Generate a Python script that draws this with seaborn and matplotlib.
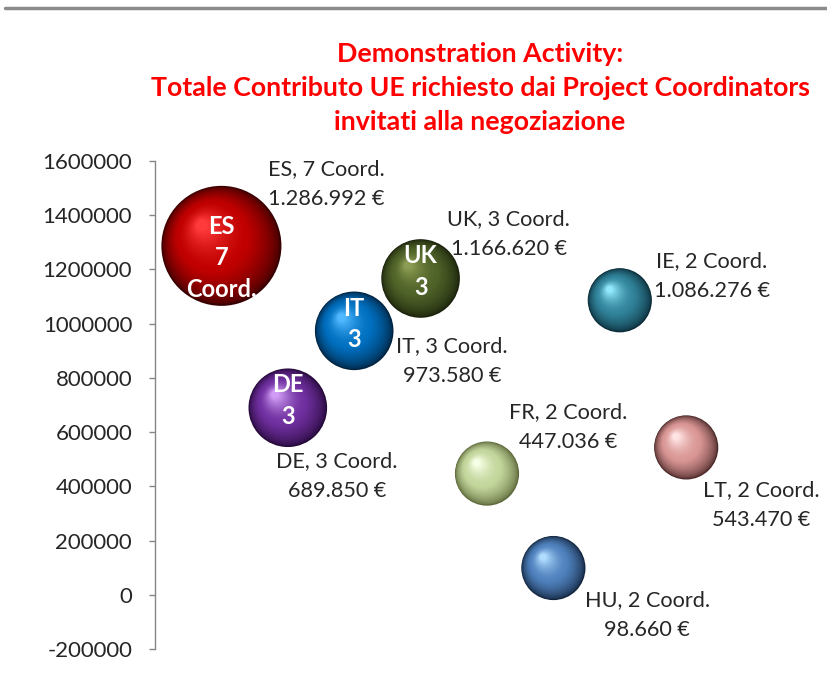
import numpy as np
import pandas as pd
import matplotlib
matplotlib.use("Agg")
import matplotlib.pyplot as plt
import seaborn as sns
from matplotlib.colors import to_rgb
from matplotlib.lines import Line2D

# ---------------- data ----------------
countries = ["ES", "DE", "IT", "UK", "FR", "HU", "IE", "LT"]
x_pos = [1, 2, 3, 4, 5, 6, 7, 8]
contrib = [1286992, 689850, 973580, 1166620, 447036, 98660, 1086276, 543470]
coords = [7, 3, 3, 3, 2, 2, 2, 2]
inner_labels = ["ES\n7\nCoord.", "DE\n3", "IT\n3", "UK\n3", "", "", "", ""]
title_lines = ["Demonstration Activity:",
               "Totale Contributo UE richiesto dai Project Coordinators",
               "invitati alla negoziazione"]
y_ticks = [-200000, 0, 200000, 400000, 600000, 800000, 1000000, 1200000, 1400000, 1600000]

# ---------------- styles ----------------
base_col = {"ES": "#c00000", "DE": "#7030a0", "IT": "#0070c0", "UK": "#4f6228",
            "FR": "#c3d69b", "HU": "#4f81bd", "IE": "#31849b", "LT": "#d99694"}
dark_col = {"ES": "#380000", "DE": "#240838", "IT": "#00223f", "UK": "#1a220b",
            "FR": "#5a6638", "HU": "#12243c", "IE": "#0a2a36", "LT": "#4a2828"}
hi_col = {"ES": "#ff3a3a", "DE": "#d09cf5", "IT": "#50b8ff", "UK": "#8c9c52",
          "FR": "#f6ffe6", "HU": "#b0dcff", "IE": "#90e6fa", "LT": "#ffe4e4"}
# label offsets in pixels (dx, dy up)
label_off = [(105, 62), (49, -68), (98, -30), (88, 44), (81, 47), (94, -47), (92, 24), (75, -58)]
inner_off = [(0, -12), (0, 7), (0, 7), (0, 7), (0, 0), (0, 0), (0, 0), (0, 0)]

sns.set_theme(style="white")
plt.rcParams["font.family"] = ["Lato", "DejaVu Sans"]
plt.rcParams["axes.unicode_minus"] = False

W, H = 827, 679
fig = plt.figure(figsize=(W / 100, H / 100), dpi=100)
ax = fig.add_axes([155 / W, (H - 649) / H, 597.6 / W, 488 / H])

df = pd.DataFrame({"country": countries, "x": x_pos, "y": contrib, "n": coords})
K = 1067.0
sns.scatterplot(data=df, x="x", y="y", hue="country", palette=dark_col,
                size="n", sizes=(2 * K, 7 * K), size_norm=(2, 7),
                legend=False, linewidth=0, ax=ax, zorder=2)

ax.set_xlim(0, 9)
ax.set_ylim(-200000, 1600000)

# sphere shading layers
def mix(a, b, t):
    a, b = np.array(to_rgb(a)), np.array(to_rgb(b))
    return tuple(np.clip(a + (b - a) * t, 0, 1))

N = 36
fig.canvas.draw()
for i in range(1, N + 1):
    t = i / N
    f = 1 - 0.9 * t
    xs, ys, ss, cs = [], [], [], []
    for c, xv, yv, n in zip(countries, x_pos, contrib, coords):
        s = K * n
        r_px = np.sqrt(s) / 2 * 100 / 72
        disp = ax.transData.transform((xv, yv))
        disp = disp + np.array([-0.32 * t * r_px, 0.34 * t * r_px])
        dx, dy = ax.transData.inverted().transform(disp)
        xs.append(dx); ys.append(dy); ss.append(s * f * f)
        if t < 0.45:
            col = mix(dark_col[c], base_col[c], (t / 0.45) ** 0.6)
        else:
            col = mix(base_col[c], hi_col[c], ((t - 0.45) / 0.55) ** 1.6)
        cs.append(col)
    ax.scatter(xs, ys, s=ss, c=cs, linewidths=0, zorder=2 + t)

# inner labels
for xv, yv, lab, off in zip(x_pos, contrib, inner_labels, inner_off):
    if lab:
        ax.annotate(lab, (xv, yv), xytext=off, textcoords="offset pixels",
                    ha="center", va="center", color="white", fontsize=17,
                    fontweight="bold", linespacing=1.45, zorder=5)

# data labels
for c, xv, yv, n, off in zip(countries, x_pos, contrib, coords, label_off):
    txt = f"{c}, {n} Coord.\n{format(yv, ',').replace(',', '.')} €"
    ax.annotate(txt, (xv, yv), xytext=off, textcoords="offset pixels",
                ha="center", va="center", color="#262626", fontsize=15.6,
                linespacing=1.62, zorder=5, annotation_clip=False)

# axes styling
ax.set_yticks(y_ticks)
ax.set_yticklabels([str(v) for v in y_ticks])
ax.set_xticks([])
ax.set_xlabel("")
ax.set_ylabel("")
for sp in ["top", "right", "bottom"]:
    ax.spines[sp].set_visible(False)
ax.spines["left"].set_color("#868686")
ax.spines["left"].set_linewidth(1)
ax.tick_params(axis="y", direction="out", length=4.5, width=1, color="#868686",
               labelsize=15.9, labelcolor="#262626", pad=12, left=True)
ax.set_facecolor("none")

# title
fig.text(480 / W, 1 - 88 / H, "\n".join(title_lines), ha="center", va="center",
         color="#ff0000", fontsize=19.3, fontweight="bold", linespacing=1.52)

# top gray rule
fig.add_artist(Line2D([5 / W, 1], [1 - 8 / H, 1 - 8 / H], color="#8c8c8c", lw=2.5))

fig.savefig("out.png", dpi=100, facecolor="white")
